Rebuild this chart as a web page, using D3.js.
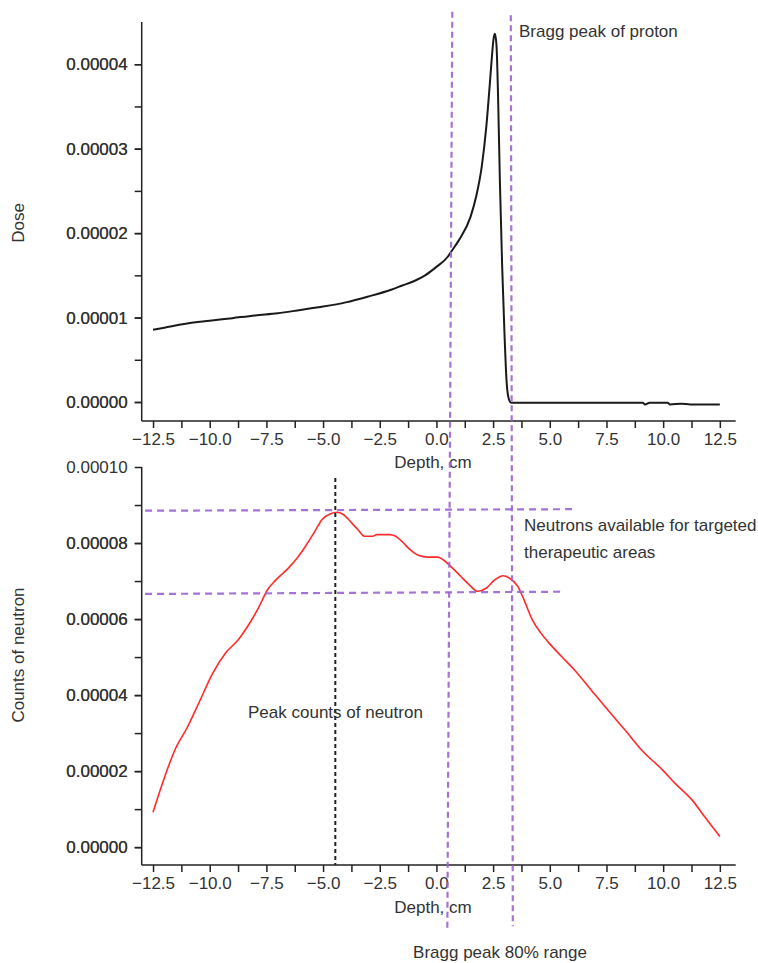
<!DOCTYPE html>
<html>
<head>
<meta charset="utf-8">
<script src="https://cdn.jsdelivr.net/npm/d3@7"></script>
<style>
  body { margin: 0; background: #fff; }
  svg { font-family: "Liberation Sans", Arial, Helvetica, sans-serif; }
  .axis path, .axis line { stroke: #222; stroke-width: 1.5; }
  .axis text { font-size: 17px; fill: #333; }
  .lbl { font-size: 17px; fill: #333; }
</style>
</head>
<body>
<script>
// dose curve (top panel), depth in cm
const doseDepth = [-12.5, -12, -11, -10, -9, -8, -7, -6, -5, -4, -3, -2, -1.5, -1, -0.5, 0, 0.5, 0.7, 1.0, 1.5, 1.75, 2.0, 2.2, 2.35, 2.45, 2.52, 2.58, 2.65, 2.72, 2.8, 2.9, 3.0, 3.1, 3.2, 3.3, 5, 7, 9.1, 9.2, 9.4, 10.2, 10.3, 10.8, 11.2, 11.4, 12.5];
const doseValue = [0.855e-5, 0.88e-5, 0.93e-5, 0.962e-5, 0.993e-5, 1.025e-5, 1.05e-5, 1.09e-5, 1.13e-5, 1.18e-5, 1.25e-5, 1.33e-5, 1.38e-5, 1.43e-5, 1.50e-5, 1.60e-5, 1.72e-5, 1.80e-5, 1.92e-5, 2.19e-5, 2.43e-5, 2.79e-5, 3.26e-5, 3.75e-5, 4.10e-5, 4.30e-5, 4.36e-5, 4.22e-5, 3.60e-5, 2.60e-5, 1.60e-5, 0.82e-5, 0.22e-5, 0.03e-5, -0.01e-5, -0.01e-5, -0.01e-5, -0.01e-5, -0.03e-5, -0.01e-5, -0.01e-5, -0.03e-5, -0.02e-5, -0.03e-5, -0.03e-5, -0.03e-5];

// neutron counts (bottom panel)
const neutronDepth = [-12.5, -12.09, -11.54, -10.98, -10.42, -9.87, -9.31, -8.75, -8.2, -7.82, -7.45, -7.08, -6.53, -6.15, -5.78, -5.41, -5.04, -4.67, -4.39, -4.11, -3.74, -3.46, -3.18, -2.81, -2.63, -2.07, -1.8, -1.52, -1.15, -0.77, -0.4, 0.06, 0.34, 0.71, 1.08, 1.45, 1.82, 2.19, 2.57, 2.94, 3.21, 3.59, 3.86, 4.23, 4.61, 4.98, 5.53, 6.09, 6.83, 7.57, 8.32, 9.06, 9.99, 10.54, 11.29, 11.84, 12.5];
const neutronValue = [0.92e-5, 1.67e-5, 2.55e-5, 3.16e-5, 3.87e-5, 4.57e-5, 5.10e-5, 5.45e-5, 5.93e-5, 6.33e-5, 6.77e-5, 7.03e-5, 7.34e-5, 7.60e-5, 7.91e-5, 8.26e-5, 8.62e-5, 8.77e-5, 8.81e-5, 8.75e-5, 8.53e-5, 8.35e-5, 8.18e-5, 8.18e-5, 8.22e-5, 8.22e-5, 8.18e-5, 8.04e-5, 7.82e-5, 7.67e-5, 7.63e-5, 7.63e-5, 7.54e-5, 7.34e-5, 7.12e-5, 6.90e-5, 6.73e-5, 6.81e-5, 7.03e-5, 7.14e-5, 7.08e-5, 6.86e-5, 6.51e-5, 5.98e-5, 5.63e-5, 5.36e-5, 5.01e-5, 4.66e-5, 4.13e-5, 3.60e-5, 3.08e-5, 2.55e-5, 2.02e-5, 1.67e-5, 1.23e-5, 0.79e-5, 0.28e-5];

// tick values
const xTicks = [-12.5, -10, -7.5, -5, -2.5, 0, 2.5, 5, 7.5, 10, 12.5];
const doseTicks = [0, 0.00001, 0.00002, 0.00003, 0.00004];
const countTicks = [0, 0.00002, 0.00004, 0.00006, 0.00008, 0.0001];

// annotation lines: [depth1, value1, depth2, value2]
const braggLines = [[0.70, 4.62e-5, 0.48, -2.18e-5], [3.28, 4.58e-5, 3.37, -2.08e-5]];
const neutronBands = [[-12.85, 8.85e-5, 6.02, 8.89e-5], [-12.85, 6.66e-5, 5.67, 6.72e-5]];
const peakLine = [-4.46, 9.71e-5];

const svg = d3.select("body").append("svg")
    .attr("width", 758)
    .attr("height", 963);

const x = d3.scaleLinear().domain([-13.0, 13.2]).range([141.7, 735.7]);
const yTop = d3.scaleLinear().domain([-0.00000225, 0.000045]).range([421, 22]);
const yBot = d3.scaleLinear().domain([-0.0000047, 0.0001]).range([865, 467]);

const minorX = d3.range(-12.5, 12.6, 1.25);

function drawAxes(y, majors, step, bottomY) {
    const minors = d3.range(0, y.domain()[1] - 1e-12, step);
    const fmtY = d3.format(".5f");
    svg.append("g")
        .attr("class", "axis")
        .attr("transform", `translate(${x.range()[0]},0)`)
        .call(d3.axisLeft(y).tickValues(minors.concat(majors)).tickSize(7).tickPadding(7)
            .tickFormat(d => majors.some(m => Math.abs(m - d) < 1e-12) ? fmtY(d) : ""))
        .call(g => g.select(".domain").attr("d", `M0,${y.range()[0]}V${y.range()[1]}`));

    svg.append("g")
        .attr("class", "axis")
        .attr("transform", `translate(0,${bottomY})`)
        .call(d3.axisBottom(x).tickValues(minorX).tickSize(7).tickPadding(5)
            .tickFormat(d => xTicks.includes(d) ? d3.format(".1f")(d) : ""))
        .call(g => g.select(".domain").attr("d", `M${x.range()[0]},0H${x.range()[1]}`));
}

drawAxes(yTop, doseTicks, 0.000005, 421);
drawAxes(yBot, countTicks, 0.00001, 865);

// axis titles
svg.append("text").attr("class", "lbl").attr("x", 433).attr("y", 468)
    .attr("text-anchor", "middle").text("Depth, cm");
svg.append("text").attr("class", "lbl").attr("x", 433).attr("y", 913)
    .attr("text-anchor", "middle").text("Depth, cm");
svg.append("text").attr("class", "lbl")
    .attr("transform", "translate(24,223) rotate(-90)")
    .attr("text-anchor", "middle").text("Dose");
svg.append("text").attr("class", "lbl")
    .attr("transform", "translate(24,655) rotate(-90)")
    .attr("text-anchor", "middle").text("Counts of neutron");

// curves
const doseLine = d3.line().x(d => x(d[0])).y(d => yTop(d[1])).curve(d3.curveMonotoneX);
svg.append("path")
    .datum(doseDepth.map((d, i) => [d, doseValue[i]]))
    .attr("d", doseLine)
    .attr("fill", "none")
    .attr("stroke", "#1a1a1a")
    .attr("stroke-width", 2);

const neutronLine = d3.line().x(d => x(d[0])).y(d => yBot(d[1])).curve(d3.curveMonotoneX);
svg.append("path")
    .datum(neutronDepth.map((d, i) => [d, neutronValue[i]]))
    .attr("d", neutronLine)
    .attr("fill", "none")
    .attr("stroke", "#ff2a2a")
    .attr("stroke-width", 1.6);

// annotations
const purple = "#9a66d0";
svg.selectAll(".band").data(neutronBands).join("line")
    .attr("x1", d => x(d[0])).attr("y1", d => yBot(d[1]))
    .attr("x2", d => x(d[2])).attr("y2", d => yBot(d[3]))
    .attr("stroke", purple).attr("stroke-width", 2.2)
    .attr("stroke-dasharray", "7,5").attr("opacity", 0.9);

svg.selectAll(".bragg").data(braggLines).join("line")
    .attr("x1", d => x(d[0])).attr("y1", d => yTop(d[1]))
    .attr("x2", d => x(d[2])).attr("y2", d => yBot(d[3]))
    .attr("stroke", purple).attr("stroke-width", 2.2)
    .attr("stroke-dasharray", "6,4").attr("opacity", 0.9);

svg.append("line")
    .attr("x1", x(peakLine[0])).attr("y1", yBot(peakLine[1]))
    .attr("x2", x(peakLine[0])).attr("y2", yBot.range()[0])
    .attr("stroke", "#222").attr("stroke-width", 2)
    .attr("stroke-dasharray", "4,3");

// text notes
svg.append("text").attr("class", "lbl").attr("x", 519).attr("y", 37).text("Bragg peak of proton");
svg.append("text").attr("class", "lbl").attr("x", 524).attr("y", 531).text("Neutrons available for targeted");
svg.append("text").attr("class", "lbl").attr("x", 524).attr("y", 558).text("therapeutic areas");
svg.append("text").attr("class", "lbl").attr("x", 248).attr("y", 718).text("Peak counts of neutron");
svg.append("text").attr("class", "lbl").attr("x", 500).attr("y", 958)
    .attr("text-anchor", "middle").text("Bragg peak 80% range");
</script>
</body>
</html>
